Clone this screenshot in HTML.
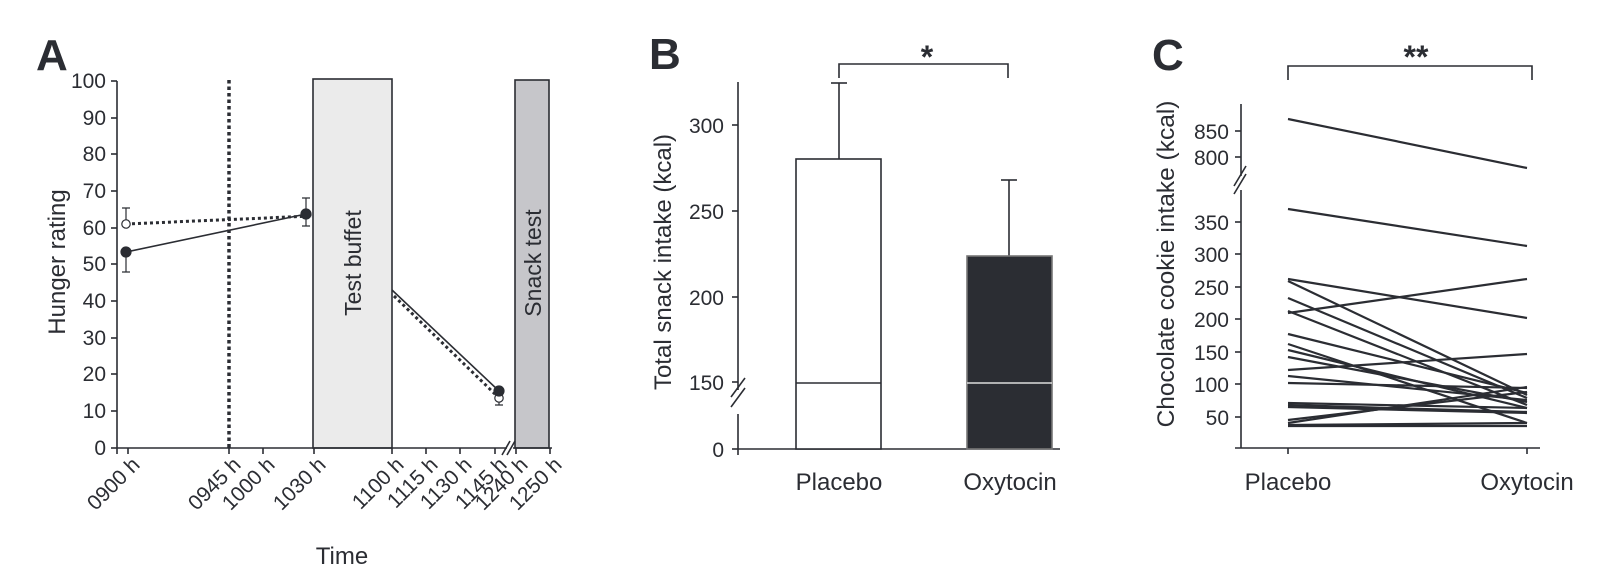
<!DOCTYPE html>
<html><head><meta charset="utf-8"><style>
html,body{margin:0;padding:0;background:#fff;}
svg{display:block;}
text{font-family:"Liberation Sans",Arial,sans-serif;fill:#2b2d33;}
</style></head><body>
<svg width="1617" height="583" viewBox="0 0 1617 583" xmlns="http://www.w3.org/2000/svg">
<g stroke="#2b2d33" fill="none" stroke-width="1.6">
<!-- Panel A -->
<rect x="313" y="79" width="79" height="369" fill="#ebebeb"/>
<rect x="515" y="80" width="34" height="368" fill="#c6c6ca"/>
<line x1="117" y1="81" x2="117" y2="448"/>
<line x1="117" y1="448" x2="507" y2="448"/>
<line x1="513" y1="448" x2="552" y2="448"/>
<line x1="502" y1="455" x2="510" y2="441"/>
<line x1="507" y1="455" x2="515" y2="441"/>
<g>
<line x1="111" y1="81" x2="117" y2="81"/><line x1="111" y1="118" x2="117" y2="118"/><line x1="111" y1="154" x2="117" y2="154"/><line x1="111" y1="191" x2="117" y2="191"/><line x1="111" y1="228" x2="117" y2="228"/><line x1="111" y1="264" x2="117" y2="264"/><line x1="111" y1="301" x2="117" y2="301"/><line x1="111" y1="338" x2="117" y2="338"/><line x1="111" y1="374" x2="117" y2="374"/><line x1="111" y1="411" x2="117" y2="411"/><line x1="111" y1="448" x2="117" y2="448"/>
<line x1="117" y1="448" x2="117" y2="454"/><line x1="128" y1="448" x2="128" y2="454"/><line x1="229" y1="448" x2="229" y2="454"/><line x1="263" y1="448" x2="263" y2="454"/><line x1="314" y1="448" x2="314" y2="454"/><line x1="392" y1="448" x2="392" y2="454"/><line x1="426" y1="448" x2="426" y2="454"/><line x1="460" y1="448" x2="460" y2="454"/><line x1="495" y1="448" x2="495" y2="454"/><line x1="516" y1="448" x2="516" y2="454"/><line x1="550" y1="448" x2="550" y2="454"/>
</g>
<line x1="229" y1="80" x2="229" y2="448" stroke-width="3.5" stroke-dasharray="3.5,3"/>
<line x1="126" y1="252" x2="306" y2="214"/>
<line x1="126" y1="224" x2="312" y2="216" stroke-width="3" stroke-dasharray="3,3"/>
<line x1="392" y1="290" x2="499" y2="391"/>
<line x1="394" y1="296" x2="497" y2="396" stroke-width="3" stroke-dasharray="3,3"/>
<path d="M126 224V208M122 208H130M126 252V272M122 272H130M306 214V198M302 198H310M306 214V226M302 226H310M499 398V405M495 405H503" stroke-width="1.2"/>
<circle cx="126" cy="224" r="4.2" fill="#fff" stroke-width="1.2"/>
<circle cx="126" cy="252" r="4.8" fill="#2b2d33"/>
<circle cx="306" cy="214" r="4.8" fill="#2b2d33"/>
<circle cx="499" cy="398" r="4.2" fill="#fff" stroke-width="1.2"/>
<circle cx="499" cy="391" r="4.8" fill="#2b2d33"/>
<!-- Panel B -->
<line x1="738" y1="82" x2="738" y2="390"/>
<line x1="738" y1="414" x2="738" y2="449"/>
<line x1="731" y1="397" x2="745" y2="378"/>
<line x1="731" y1="407" x2="745" y2="388"/>
<line x1="738" y1="449" x2="1060" y2="449"/>
<line x1="732" y1="125" x2="738" y2="125"/><line x1="732" y1="211" x2="738" y2="211"/><line x1="732" y1="297" x2="738" y2="297"/><line x1="732" y1="382" x2="738" y2="382"/><line x1="732" y1="449" x2="738" y2="449"/>
<line x1="738" y1="449" x2="738" y2="455"/>
<line x1="839" y1="159" x2="839" y2="83"/><line x1="831" y1="83" x2="847" y2="83"/>
<line x1="1009" y1="256" x2="1009" y2="180"/><line x1="1001" y1="180" x2="1017" y2="180"/>
<rect x="796" y="159" width="85" height="290" fill="#fff"/>
<line x1="796" y1="383" x2="881" y2="383"/>
<rect x="967" y="256" width="85" height="193" fill="#2b2d33" stroke="#777"/>
<line x1="967" y1="383" x2="1052" y2="383" stroke="#ddd"/>
<path d="M839 78V64H1008V78"/>
<!-- Panel C -->
<line x1="1241" y1="104" x2="1241" y2="176"/>
<line x1="1241" y1="190" x2="1241" y2="448"/>
<line x1="1234" y1="186" x2="1246" y2="166"/>
<line x1="1234" y1="194" x2="1246" y2="174"/>
<line x1="1235" y1="448" x2="1540" y2="448"/>
<line x1="1235" y1="131" x2="1241" y2="131"/><line x1="1235" y1="157" x2="1241" y2="157"/>
<line x1="1235" y1="222" x2="1241" y2="222"/><line x1="1235" y1="254" x2="1241" y2="254"/><line x1="1235" y1="287" x2="1241" y2="287"/><line x1="1235" y1="319" x2="1241" y2="319"/><line x1="1235" y1="352" x2="1241" y2="352"/><line x1="1235" y1="384" x2="1241" y2="384"/><line x1="1235" y1="417" x2="1241" y2="417"/>
<line x1="1288" y1="448" x2="1288" y2="454"/><line x1="1527" y1="448" x2="1527" y2="454"/>
<path d="M1288 80V66H1532V80"/>
<g stroke-width="2.2">
<line x1="1288" y1="119" x2="1527" y2="168"/>
<line x1="1288" y1="209" x2="1527" y2="246"/>
<line x1="1288" y1="279" x2="1527" y2="318"/>
<line x1="1288" y1="281" x2="1527" y2="395"/>
<line x1="1288" y1="313" x2="1527" y2="279"/>
<line x1="1288" y1="298" x2="1527" y2="398"/>
<line x1="1288" y1="311" x2="1527" y2="405"/>
<line x1="1288" y1="334" x2="1527" y2="393"/>
<line x1="1288" y1="344" x2="1527" y2="423"/>
<line x1="1288" y1="350" x2="1527" y2="408"/>
<line x1="1288" y1="357" x2="1527" y2="402"/>
<line x1="1288" y1="370" x2="1527" y2="354"/>
<line x1="1288" y1="376" x2="1527" y2="400"/>
<line x1="1288" y1="383" x2="1527" y2="388"/>
<line x1="1288" y1="403" x2="1527" y2="408"/>
<line x1="1288" y1="405" x2="1527" y2="412"/>
<line x1="1288" y1="407" x2="1527" y2="413"/>
<line x1="1288" y1="420" x2="1527" y2="392"/>
<line x1="1288" y1="423" x2="1527" y2="387"/>
<line x1="1288" y1="426" x2="1527" y2="426"/>
<line x1="1288" y1="425" x2="1527" y2="423"/>
</g>
</g>
<!-- Text A -->
<text x="36" y="70" font-size="44" font-weight="bold">A</text>
<g font-size="21" text-anchor="end">
<text x="106" y="88">100</text><text x="106" y="125">90</text><text x="106" y="161">80</text><text x="106" y="198">70</text><text x="106" y="235">60</text><text x="106" y="271">50</text><text x="106" y="308">40</text><text x="106" y="345">30</text><text x="106" y="381">20</text><text x="106" y="418">10</text><text x="106" y="455">0</text>
</g>
<text transform="translate(65,262) rotate(-90)" font-size="24" text-anchor="middle">Hunger rating</text>
<text x="342" y="564" font-size="24" text-anchor="middle">Time</text>
<text transform="translate(361,263) rotate(-90)" font-size="23" text-anchor="middle">Test buffet</text>
<text transform="translate(541,263) rotate(-90)" font-size="23" text-anchor="middle">Snack test</text>
<g font-size="21" text-anchor="end">
<text transform="translate(141,466) rotate(-45)">0900 h</text>
<text transform="translate(242,466) rotate(-45)">0945 h</text>
<text transform="translate(276,466) rotate(-45)">1000 h</text>
<text transform="translate(327,466) rotate(-45)">1030 h</text>
<text transform="translate(405,466) rotate(-45)">1100 h</text>
<text transform="translate(439,466) rotate(-45)">1115 h</text>
<text transform="translate(473,466) rotate(-45)">1130 h</text>
<text transform="translate(508,466) rotate(-45)">1145 h</text>
<text transform="translate(529,466) rotate(-45)">1240 h</text>
<text transform="translate(563,466) rotate(-45)">1250 h</text>
</g>
<!-- Text B -->
<text x="649" y="69" font-size="44" font-weight="bold">B</text>
<text x="927" y="68" font-size="32" font-weight="bold" text-anchor="middle">*</text>
<g font-size="21" text-anchor="end">
<text x="724" y="133">300</text><text x="724" y="219">250</text><text x="724" y="305">200</text><text x="724" y="390">150</text><text x="724" y="457">0</text>
</g>
<text transform="translate(671,262) rotate(-90)" font-size="24" text-anchor="middle">Total snack intake (kcal)</text>
<text x="839" y="490" font-size="24" text-anchor="middle">Placebo</text>
<text x="1010" y="490" font-size="24" text-anchor="middle">Oxytocin</text>
<!-- Text C -->
<text x="1152" y="70" font-size="44" font-weight="bold">C</text>
<text x="1416" y="68" font-size="32" font-weight="bold" text-anchor="middle">**</text>
<g font-size="21" text-anchor="end">
<text x="1229" y="139">850</text><text x="1229" y="165">800</text>
<text x="1229" y="230">350</text><text x="1229" y="262">300</text><text x="1229" y="295">250</text><text x="1229" y="327">200</text><text x="1229" y="360">150</text><text x="1229" y="392">100</text><text x="1229" y="425">50</text>
</g>
<text transform="translate(1174,264) rotate(-90)" font-size="24.5" text-anchor="middle">Chocolate cookie intake (kcal)</text>
<text x="1288" y="490" font-size="24" text-anchor="middle">Placebo</text>
<text x="1527" y="490" font-size="24" text-anchor="middle">Oxytocin</text>
</svg>
</body></html>
